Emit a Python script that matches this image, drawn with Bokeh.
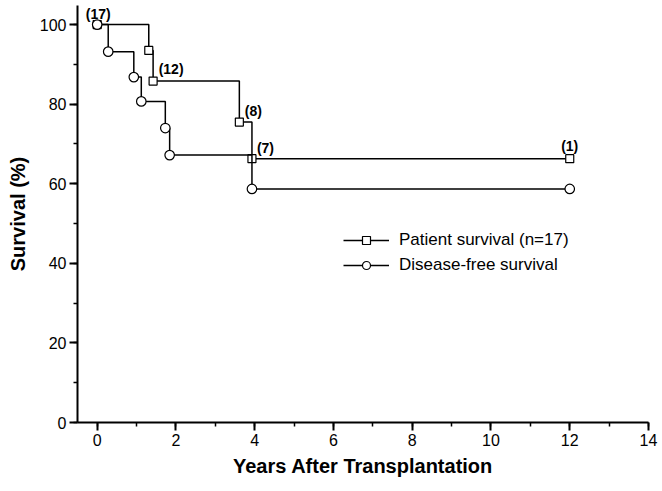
from bokeh.plotting import figure
from bokeh.models import (ColumnDataSource, LabelSet, Legend, LegendItem,
                          Range1d, SingleIntervalTicker)
from bokeh.core.properties import value
from bokeh.embed import file_html
from bokeh.resources import INLINE

# ---- data ----
patient_years = [0, 1.31, 1.42, 3.61, 3.93, 12]
patient_surv = [100, 93.5, 85.8, 75.5, 66.3, 66.3]
dfs_years = [0, 0.28, 0.93, 1.12, 1.73, 1.84, 3.93, 12]
dfs_surv = [100, 93.2, 86.8, 80.7, 74.0, 67.2, 58.7, 58.7]
risk_years = [0, 1.42, 3.61, 3.93, 12]
risk_surv = [100, 85.8, 75.5, 66.3, 66.3]
risk_labels = ["(17)", "(12)", "(8)", "(7)", "(1)"]
series_names = ["Patient survival (n=17)", "Disease-free survival"]

# ---- styles ----
FONT = "Liberation Sans"
label_dx = [1, 18, 14, 13.5, 0]
label_dy = [10.5, 12, 11, 11, 13]

p = figure(width=662, height=491,
           x_range=Range1d(-0.5, 14), y_range=Range1d(0, 104.8),
           output_backend="svg", toolbar_location=None,
           min_border_left=77, min_border_right=14,
           min_border_top=5, min_border_bottom=69)
p.grid.visible = False
p.outline_line_color = None
p.background_fill_color = "white"
p.border_fill_color = "white"

# patient survival
pl = p.step(patient_years, patient_surv, mode="after", line_color="black", line_width=1.5)
ps = p.scatter(patient_years, patient_surv, marker="square", size=8,
               fill_color="white", line_color="black", line_width=1.2)
# disease-free survival
dl = p.step(dfs_years, dfs_surv, mode="after", line_color="black", line_width=1.5)
dc = p.scatter(dfs_years, dfs_surv, marker="circle", size=9.5,
               fill_color="white", line_color="black", line_width=1.2)

src = ColumnDataSource(dict(x=risk_years, y=risk_surv, t=risk_labels,
                            dx=label_dx, dy=label_dy))
labels = LabelSet(x="x", y="y", text="t", x_offset="dx", y_offset="dy", source=src,
                  text_align="center", text_baseline="middle",
                  text_font=value(FONT), text_font_size=value("14px"),
                  text_font_style="bold", text_color="black")
p.add_layout(labels)

# axes
xa = p.xaxis[0]
ya = p.yaxis[0]
xa.ticker = SingleIntervalTicker(interval=2, num_minor_ticks=2)
ya.ticker = SingleIntervalTicker(interval=20, num_minor_ticks=2)
for ax in (xa, ya):
    ax.axis_line_width = 2
    ax.axis_line_color = "black"
    ax.major_tick_line_width = 2
    ax.minor_tick_line_width = 1.5
    ax.major_tick_line_color = "black"
    ax.minor_tick_line_color = "black"
    ax.major_tick_in = 0
    ax.major_tick_out = 8
    ax.minor_tick_in = 0
    ax.minor_tick_out = 4
    ax.major_label_text_font = FONT
    ax.major_label_text_font_size = "16px"
    ax.major_label_text_color = "black"
    ax.axis_label_text_font = FONT
    ax.axis_label_text_font_size = "20px"
    ax.axis_label_text_font_style = "bold"
    ax.axis_label_text_color = "black"
xa.axis_label = "Years After Transplantation"
ya.axis_label = "Survival (%)"
xa.major_label_standoff = 3
ya.major_label_standoff = 3
xa.axis_label_standoff = 6
ya.axis_label_standoff = 8

legend = Legend(items=[LegendItem(label=series_names[0], renderers=[pl, ps]),
                       LegendItem(label=series_names[1], renderers=[dl, dc])],
                location=(266, 147), glyph_width=46, glyph_height=20,
                label_height=20, spacing=5, padding=0, margin=0,
                label_standoff=10, label_text_font=FONT,
                label_text_font_size="17px", label_text_color="black",
                border_line_color=None, background_fill_alpha=0)
p.add_layout(legend)

open("out.html", "w").write(file_html(p, INLINE))
